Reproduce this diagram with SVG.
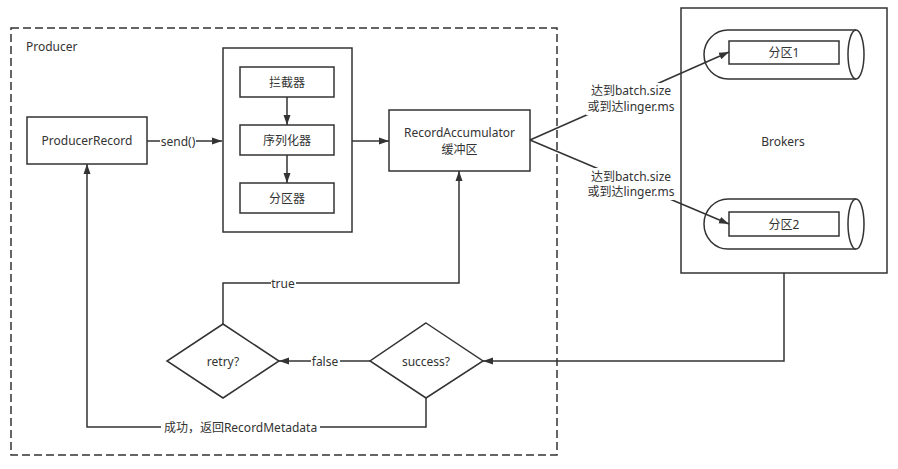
<svg xmlns="http://www.w3.org/2000/svg" width="898" height="469" viewBox="0 0 898 469">
<style>
  .box { fill: #fff; stroke: #333; stroke-width: 1.5; }
  .edge { fill: none; stroke: #333; stroke-width: 1.5; }
  text { font-family: "Noto Sans", "Noto Sans CJK SC", sans-serif; font-size: 12px; fill: #333; }
  .c { text-anchor: middle; dominant-baseline: central; }
  .lbg { fill: #fff; stroke: none; }
</style>
<defs>
  <marker id="arr" markerUnits="userSpaceOnUse" markerWidth="11" markerHeight="8" refX="10" refY="4" orient="auto">
    <path d="M0,0.5 L10,4 L0,7.5 z" fill="#333"/>
  </marker>
</defs>
<rect width="898" height="469" fill="#fff"/>

<g id="producer">
  <rect x="11" y="28" width="546" height="427" fill="none" stroke="#333" stroke-width="1.5" stroke-dasharray="8 4"/>
  <text x="26" y="51">Producer</text>
</g>

<g id="brokers">
  <rect class="box" x="681" y="8" width="206" height="265"/>
  <text class="c" x="783" y="141">Brokers</text>
</g>

<g id="cyl1">
  <path class="box" d="M856,30 L728,30 A24,24.5 0 0 0 728,79 L856,79"/>
  <ellipse class="box" cx="856" cy="54.5" rx="8" ry="24.5"/>
</g>
<g id="cyl2">
  <path class="box" d="M856,199 L728,199 A24,25 0 0 0 728,249 L856,249"/>
  <ellipse class="box" cx="856" cy="224" rx="8" ry="25"/>
</g>

<g id="p1">
  <rect class="box" x="729" y="41" width="110" height="23"/>
  <text class="c" x="784" y="52.5">分区1</text>
</g>
<g id="p2">
  <rect class="box" x="729" y="212" width="110" height="24"/>
  <text class="c" x="784" y="224">分区2</text>
</g>

<g id="producerRecord">
  <rect class="box" x="27" y="117" width="120" height="47"/>
  <text class="c" x="87" y="140.5">ProducerRecord</text>
</g>

<g id="chain">
  <rect class="box" x="223" y="48" width="129" height="184"/>
</g>
<g id="interceptor">
  <rect class="box" x="240" y="67" width="94" height="30"/>
  <text class="c" x="287" y="82">拦截器</text>
</g>
<g id="serializer">
  <rect class="box" x="240" y="125" width="94" height="30"/>
  <text class="c" x="287" y="140">序列化器</text>
</g>
<g id="partitioner">
  <rect class="box" x="240" y="183" width="94" height="30"/>
  <text class="c" x="287" y="198">分区器</text>
</g>

<g id="accumulator">
  <rect class="box" x="389" y="110" width="141" height="61"/>
  <text class="c" x="459.5" y="132.5">RecordAccumulator</text>
  <text class="c" x="459.5" y="149.5">缓冲区</text>
</g>

<g id="retry">
  <polygon class="box" points="223,324 279,361 223,398 167,361"/>
  <text class="c" x="223" y="361">retry?</text>
</g>
<g id="success">
  <polygon class="box" points="426,323 483,361 426,398 370,361"/>
  <text class="c" x="426" y="361">success?</text>
</g>

<g id="connectors">
  <path class="edge" d="M147,141 L222,141" marker-end="url(#arr)"/>
  <path class="edge" d="M287,97 L287,125" marker-end="url(#arr)"/>
  <path class="edge" d="M287,155 L287,183" marker-end="url(#arr)"/>
  <path class="edge" d="M352,141 L389,141" marker-end="url(#arr)"/>
  <path class="edge" d="M530,140 L729,52" marker-end="url(#arr)"/>
  <path class="edge" d="M530,140 L729,224" marker-end="url(#arr)"/>
  <path class="edge" d="M784,273 L784,361 L483,361" marker-end="url(#arr)"/>
  <path class="edge" d="M370,361 L279,361" marker-end="url(#arr)"/>
  <path class="edge" d="M223,324 L223,283 L459,283 L459,171" marker-end="url(#arr)"/>
  <path class="edge" d="M426,398 L426,427 L87,427 L87,164" marker-end="url(#arr)"/>

  <rect class="lbg" x="160" y="133" width="36" height="16"/>
  <text class="c" x="178" y="141">send()</text>

  <rect class="lbg" x="586" y="83" width="90" height="32"/>
  <text class="c" x="631" y="90.5">达到batch.size</text>
  <text class="c" x="631" y="106">或到达linger.ms</text>

  <rect class="lbg" x="586" y="168" width="90" height="32"/>
  <text class="c" x="631" y="176">达到batch.size</text>
  <text class="c" x="631" y="191.5">或到达linger.ms</text>

  <rect class="lbg" x="271" y="275" width="25" height="16"/>
  <text class="c" x="283" y="283">true</text>

  <rect class="lbg" x="311" y="353" width="29" height="16"/>
  <text class="c" x="325" y="361">false</text>

  <rect class="lbg" x="161" y="419" width="159" height="16"/>
  <text class="c" x="240.5" y="427">成功，返回RecordMetadata</text>
</g>
</svg>
